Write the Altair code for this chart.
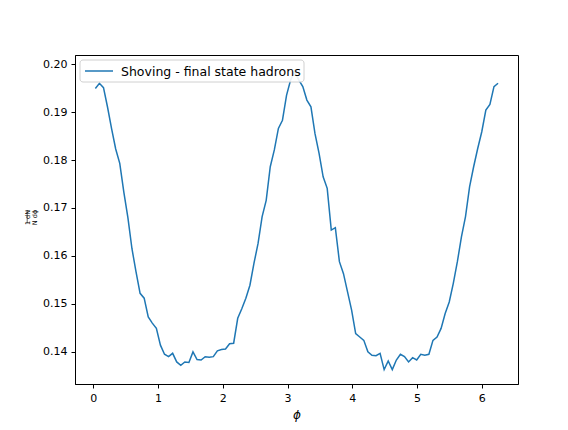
import altair as alt
import pandas as pd
import numpy as np

n_bins = 100
phi = [(i + 0.5) * 2 * np.pi / n_bins for i in range(n_bins)]

dndphi = [
    0.1949, 0.1960, 0.1951, 0.1910, 0.1865, 0.1823, 0.1793, 0.1733, 0.1680, 0.1615,
    0.1567, 0.1522, 0.1512, 0.1473, 0.1460, 0.1449, 0.1414, 0.1395, 0.1390, 0.1397,
    0.1379, 0.1372, 0.1379, 0.1378, 0.1400, 0.1384, 0.1383, 0.1390, 0.1389, 0.1390,
    0.1402, 0.1405, 0.1406, 0.1417, 0.1418, 0.1470, 0.1490, 0.1512, 0.1539, 0.1585,
    0.1626, 0.1682, 0.1716, 0.1786, 0.1821, 0.1866, 0.1883, 0.1935, 0.1967, 0.1985,
    0.1967, 0.1953, 0.1925, 0.1911, 0.1855, 0.1814, 0.1765, 0.1741, 0.1654, 0.1659,
    0.1588, 0.1563, 0.1525, 0.1487, 0.1438, 0.1431, 0.1424, 0.1400, 0.1393, 0.1392,
    0.1397, 0.1363, 0.1381, 0.1363, 0.1383, 0.1395, 0.1390, 0.1379, 0.1388, 0.1383,
    0.1395, 0.1393, 0.1395, 0.1424, 0.1431, 0.1449, 0.1480, 0.1504, 0.1543, 0.1588,
    0.1640, 0.1682, 0.1744, 0.1786, 0.1824, 0.1859, 0.1904, 0.1916, 0.1953, 0.1960,
]

series_name = "Shoving - final state hadrons"
x_ticks = [0, 1, 2, 3, 4, 5, 6]
y_ticks = [0.14, 0.15, 0.16, 0.17, 0.18, 0.19, 0.20]

df = pd.DataFrame({"phi": phi, "val": dndphi, "series": series_name})
leg_df = pd.DataFrame({"series": [series_name]})

FONT = "DejaVu Sans"
BLUE = "#1f77b4"

line = alt.Chart(df).mark_line(strokeWidth=1.5, clip=True, color=BLUE).encode(
    x=alt.X(
        "phi:Q",
        scale=alt.Scale(domain=[-0.283, 6.56], nice=False, zero=False),
        axis=alt.Axis(
            values=x_ticks, format="d", title="ϕ", titleFontStyle="italic",
            titleFontWeight="normal", titleFontSize=12, titlePadding=6,
            grid=False, tickSize=4, labelPadding=4,
        ),
    ),
    y=alt.Y(
        "val:Q",
        scale=alt.Scale(domain=[0.1333, 0.2019], nice=False, zero=False),
        axis=alt.Axis(
            values=y_ticks, format=".2f", title=["1 dN", "N dϕ"],
            titleFontWeight="normal", titleFontSize=6.5, titleLineHeight=7,
            titleX=-48, titleY=162, titleAngle=270, titleAlign="center",
            titleBaseline="middle", grid=False, tickSize=4, labelPadding=4,
        ),
    ),
)

# fraction bar of the y-axis title
frac_bar = alt.Chart(leg_df).mark_rule(color="black", strokeWidth=0.6, clip=False).encode(
    x=alt.value(-47.8), y=alt.value(155), y2=alt.value(168)
)

legend_box = alt.Chart(leg_df).mark_rect(
    fill="white", stroke="#cccccc", strokeWidth=1, cornerRadius=3, opacity=0.9
).encode(x=alt.value(5), x2=alt.value(229), y=alt.value(5), y2=alt.value(27))

legend_line = alt.Chart(leg_df).mark_rule(color=BLUE, strokeWidth=1.5).encode(
    x=alt.value(10), x2=alt.value(38), y=alt.value(16)
)

legend_text = alt.Chart(leg_df).mark_text(
    align="left", baseline="middle", font=FONT, fontSize=12.5, color="black"
).encode(x=alt.value(46), y=alt.value(16.5), text="series:N")

chart = alt.layer(line, frac_bar, legend_box, legend_line, legend_text).properties(
    width=443,
    height=329,
    autosize=alt.AutoSizeParams(type="none"),
    padding={"left": 67, "top": 47, "right": 42, "bottom": 38},
    background="white",
).configure_view(
    stroke="black", strokeWidth=1
).configure_axis(
    domainColor="black", tickColor="black", labelColor="black",
    titleColor="black", labelFont=FONT, titleFont=FONT, labelFontSize=11,
    domainWidth=1, tickWidth=1,
)

chart.save("out.html", embed_options={"renderer": "svg", "actions": False})
